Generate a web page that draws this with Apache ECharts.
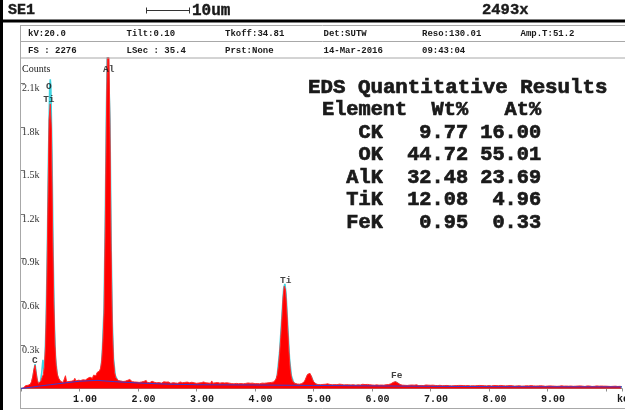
<!DOCTYPE html>
<html>
<head>
<meta charset="utf-8">
<script src="https://cdn.jsdelivr.net/npm/echarts@6/dist/echarts.min.js"></script>
<style>
  html, body { margin: 0; padding: 0; background: #fff; }
  #chart { width: 625px; height: 410px; }
</style>
</head>
<body>
<div id="chart"></div>
<script>
// spectrum: counts per channel, channel 0 = 0.00 keV
const channelWidth = 0.02;
const spectrumCounts = [
  0, 0, 3, 8, 20, 27, 22, 32, 30, 48, 80, 130, 160, 105, 55, 34, 42, 52, 75, 95, 150, 300, 650, 1250, 1850,
  1960, 1780, 1100, 600, 300, 160, 100, 72, 60, 48, 55, 42, 50, 88, 45, 52, 48, 58, 50, 62, 55, 70, 52, 60, 57,
  62, 55, 66, 60, 72, 58, 65, 70, 62, 78, 85, 70, 92, 98, 88, 110, 105, 120, 140, 190, 320, 520, 1100, 1850, 2400,
  2380, 1800, 950, 430, 200, 110, 75, 62, 55, 60, 52, 58, 48, 55, 50, 46, 56, 48, 62, 52, 47, 54, 45, 50, 44,
  48, 42, 52, 45, 40, 49, 43, 55, 41, 46, 40, 44, 50, 38, 43, 47, 39, 45, 41, 48, 37, 42, 46, 40, 44,
  39, 45, 41, 36, 43, 40, 47, 38, 42, 36, 41, 45, 37, 40, 35, 42, 39, 44, 36, 40, 38, 43, 35, 39, 41,
  36, 42, 38, 34, 40, 37, 45, 35, 39, 33, 38, 41, 36, 52, 37, 34, 39, 36, 41, 33, 37, 35, 40, 34, 38,
  35, 39, 33, 37, 41, 34, 36, 32, 38, 35, 40, 33, 36, 34, 39, 32, 37, 35, 33, 38, 34, 36, 31, 37, 35,
  33, 36, 34, 38, 32, 35, 37, 33, 36, 34, 38, 35, 40, 36, 42, 39, 45, 52, 65, 95, 150, 240, 350, 480, 630,
  705, 680, 560, 400, 250, 140, 80, 52, 40, 35, 33, 31, 34, 30, 32, 34, 38, 46, 62, 82, 98, 108, 104, 86, 64,
  46, 36, 31, 29, 27, 30, 26, 31, 28, 25, 29, 27, 32, 26, 28, 30, 25, 29, 27, 31, 26, 28, 30, 25, 28,
  27, 24, 29, 26, 28, 25, 30, 24, 27, 26, 29, 23, 27, 25, 28, 24, 26, 29, 23, 27, 25, 28, 24, 26, 27,
  24, 27, 23, 26, 25, 28, 23, 26, 24, 27, 23, 25, 26, 24, 27, 28, 32, 36, 42, 46, 47, 44, 38, 32, 27,
  25, 23, 26, 22, 24, 21, 25, 23, 22, 24, 20, 23, 21, 25, 22, 20, 24, 21, 23, 20, 22, 24, 21, 23, 20,
  22, 20, 23, 19, 21, 22, 20, 18, 22, 21, 19, 23, 20, 18, 21, 22, 19, 20, 18, 21, 19, 22, 20, 18, 21,
  19, 21, 18, 20, 22, 19, 17, 20, 21, 18, 20, 19, 22, 18, 17, 20, 19, 21, 18, 20, 17, 19, 21, 18, 19,
  20, 18, 17, 19, 21, 18, 20, 17, 19, 18, 21, 17, 19, 20, 18, 16, 19, 18, 20, 17, 19, 18, 16, 20, 18,
  17, 19, 18, 16, 20, 17, 18, 19, 16, 18, 17, 20, 16, 18, 19, 17, 16, 18, 17, 19, 16, 18, 17, 15, 18,
  17, 16, 18, 15, 17, 19, 16, 17, 15, 18, 16, 17, 19, 15, 16, 18, 17, 15, 16, 18, 17, 16, 15, 17, 16,
  15, 17, 16, 18, 15, 16, 17, 14, 16, 18, 15, 17, 16, 14, 17, 15, 16, 18, 15, 16, 14, 17, 15, 16, 15,
  16, 14, 15, 17, 14, 16, 15, 13, 16, 15, 14, 16, 15, 13
];

// fitted spectrum (cyan outline)
const fitEnergy = [0, 0.1, 0.18, 0.21, 0.24, 0.27, 0.30, 0.33, 0.355, 0.375, 0.395, 0.41, 0.43, 0.45, 0.47, 0.49, 0.50, 0.51, 0.53, 0.55,
  0.57, 0.59, 0.62, 0.66, 0.72, 1.0, 1.3, 1.36, 1.39, 1.42, 1.44, 1.46, 1.48, 1.50, 1.52, 1.54, 1.56, 1.58, 1.61, 1.66,
  2.0, 3.0, 4.0, 4.34, 4.38, 4.42, 4.46, 4.49, 4.51, 4.53, 4.56, 4.59, 4.62, 4.66, 4.72, 4.82, 4.86, 4.90, 4.93, 4.96,
  5.00, 5.06, 6.0, 6.32, 6.36, 6.40, 6.44, 6.50, 7, 8, 9, 10.27];
const fitCounts = [0, 5, 30, 90, 168, 70, 20, 40, 110, 198, 120, 200, 470, 950, 1600, 2060, 2130, 2080, 1600, 900,
  440, 210, 90, 45, 38, 50, 56, 90, 250, 560, 1150, 1900, 2450, 2450, 1850, 1000, 460, 210, 90, 50,
  38, 26, 24, 30, 90, 250, 500, 690, 720, 650, 420, 200, 90, 40, 25, 24, 45, 92, 104, 84,
  42, 24, 18, 20, 34, 46, 36, 18, 15, 13, 12, 11];

// background (blue line)
const bgEnergy = [0, 0.1, 0.2, 0.3, 0.5, 0.7, 1.0, 1.3, 1.6, 2.0, 2.5, 3.0, 4.0, 5.0, 6.0, 7.0, 8.0, 9.0, 10.27];
const bgCounts = [0, 5, 10, 16, 26, 36, 50, 56, 47, 38, 30, 26, 24, 21, 18, 15, 13, 12, 11];

// peak labels
const peakNames = ['C', 'O', 'Ti', 'Al', 'Ti', 'Fe'];
const peakEnergy = [0.238, 0.476, 0.476, 1.50, 4.524, 6.42];
const peakLabelCounts = [189, 2076, 1990, 2197, 740, 86];

// quantitative results
const tableElements = ['CK', 'OK', 'AlK', 'TiK', 'FeK'];
const wtPercent = [9.77, 44.72, 32.48, 12.08, 0.95];
const atPercent = [16.00, 55.01, 23.69, 4.96, 0.33];

const fullScale = 2276;   // FS
const xMax = 10.272;

const infoRow1 = ['kV:20.0', 'Tilt:0.10', 'Tkoff:34.81', 'Det:SUTW', 'Reso:130.01', 'Amp.T:51.2'];
const infoRow2 = ['FS : 2276', 'LSec : 35.4', 'Prst:None', '14-Mar-2016', '09:43:04'];

const chart = echarts.init(document.getElementById('chart'));

const mono = '"Liberation Mono", "Courier New", monospace';
const grey = '#a8a8a8';

// heavy = extra stroke to get the thick courier look of the original
function txt(text, x, y, font, heavy) {
  const style = { text: text, x: x, y: y, font: font, fill: '#1a1a1a',
    align: 'left', verticalAlign: 'middle', textAlign: 'left', textVerticalAlign: 'middle' };
  if (heavy) { style.stroke = '#1a1a1a'; style.lineWidth = heavy; }
  return { type: 'text', silent: true, z: 50, style: style };
}
function hline(x1, x2, y, color, w) {
  return { type: 'line', silent: true, z: 40, shape: { x1: x1, y1: y, x2: x2, y2: y }, style: { stroke: color, lineWidth: w } };
}
function vline(x, y1, y2, color, w) {
  return { type: 'line', silent: true, z: 40, shape: { x1: x, y1: y1, x2: x, y2: y2 }, style: { stroke: color, lineWidth: w } };
}

const graphics = [];
// frame
graphics.push(vline(1.5, 0, 410, '#000', 3));
graphics.push(hline(0, 625, 21, '#000', 3));
graphics.push(vline(20.5, 25, 409, grey, 1));
graphics.push(hline(20, 625, 25.5, grey, 1));
graphics.push(hline(20, 625, 41.5, grey, 1));
graphics.push(hline(20, 625, 58, grey, 1));
graphics.push(hline(20, 625, 408.5, grey, 1));
// header
graphics.push(txt('SE1', 8, 10.5, 'bold 15px ' + mono, 0.4));
graphics.push(hline(146, 190, 10.5, '#333', 1));
graphics.push(vline(146.5, 7.5, 13.5, '#333', 1));
graphics.push(vline(189.5, 7.5, 13.5, '#333', 1));
graphics.push(txt('10um', 192, 10.5, 'bold 16px ' + mono, 0.4));
graphics.push(txt('2493x', 482, 10.5, 'bold 15.5px ' + mono, 0.4));
// info rows
infoRow1.forEach((t, i) => graphics.push(txt(t, 28 + 98.5 * i, 34, 'bold 9px ' + mono)));
infoRow2.forEach((t, i) => graphics.push(txt(t, 28 + 98.5 * i, 51, 'bold 9px ' + mono)));
// axis captions
graphics.push(txt('Counts', 22, 69.5, '10px "Liberation Serif", serif'));
graphics.push(txt('keV', 617, 399.5, 'bold 10px ' + mono));
// results table
graphics.push(txt('EDS Quantitative Results', 308, 88, 'bold 20.8px ' + mono, 0.7));
graphics.push(txt('Element  Wt%   At%', 322, 110, 'bold 20.3px ' + mono, 0.7));
tableElements.forEach((el, i) => {
  const row = el.padStart(5) + wtPercent[i].toFixed(2).padStart(7) + atPercent[i].toFixed(2).padStart(6);
  graphics.push(txt(row, 322, 132.5 + 22.5 * i, 'bold 20.3px ' + mono, 0.7));
});

const option = {
  animation: false,
  grid: { left: 21, right: 0, top: 58, bottom: 21.5, containLabel: false },
  xAxis: {
    type: 'value', min: 0, max: xMax, interval: 1,
    axisLine: { show: true, lineStyle: { color: '#8c8c8c', width: 1 } },
    axisTick: { show: true, length: 3, lineStyle: { color: '#8c8c8c' } },
    axisLabel: {
      margin: 6, color: '#1a1a1a', fontFamily: mono, fontWeight: 'bold', fontSize: 10,
      padding: [0, 0, 0, 11], verticalAlign: 'top',
      formatter: v => (Math.abs(v - Math.round(v)) < 1e-6 && v >= 1 && v <= 9) ? v.toFixed(2) : ''
    },
    splitLine: { show: false }
  },
  yAxis: {
    type: 'value', min: 0, max: fullScale, interval: 300,
    axisLine: { show: false },
    axisTick: { show: true, inside: true, length: 4, lineStyle: { color: '#777' } },
    axisLabel: {
      inside: true, margin: 1, verticalAlign: 'top', color: '#333',
      fontFamily: '"Liberation Serif", serif', fontSize: 10,
      showMaxLabel: false,
      formatter: v => (v > 0 && v % 300 === 0) ? (v / 1000).toFixed(1) + 'k' : ''
    },
    splitLine: { show: false }
  },
  series: [
    {
      // fitted spectrum, sits under the measured one
      type: 'line', z: 1, symbol: 'none', silent: true,
      data: fitEnergy.map((e, i) => [e, fitCounts[i]]),
      lineStyle: { color: '#3fd3e0', width: 1.6 }
    },
    {
      // measured spectrum
      type: 'line', z: 2, symbol: 'none', silent: true,
      data: spectrumCounts.map((c, i) => [i * channelWidth, c]),
      lineStyle: { color: '#ff2a2a', width: 1 },
      areaStyle: { color: '#ff0000', opacity: 1 }
    },
    {
      // background
      type: 'line', z: 3, symbol: 'none', silent: true,
      data: bgEnergy.map((e, i) => [e, bgCounts[i]]),
      lineStyle: { color: '#3a3ad0', width: 1 }
    },
    {
      // peak labels
      type: 'scatter', z: 4, symbolSize: 0, silent: true,
      data: peakNames.map((n, i) => ({ name: n, value: [peakEnergy[i], peakLabelCounts[i]] })),
      label: {
        show: true, position: 'inside', formatter: p => p.name,
        color: '#111', fontFamily: mono, fontWeight: 'bold', fontSize: 9.5
      }
    }
  ],
  graphic: graphics
};

chart.setOption(option);
</script>
</body>
</html>
